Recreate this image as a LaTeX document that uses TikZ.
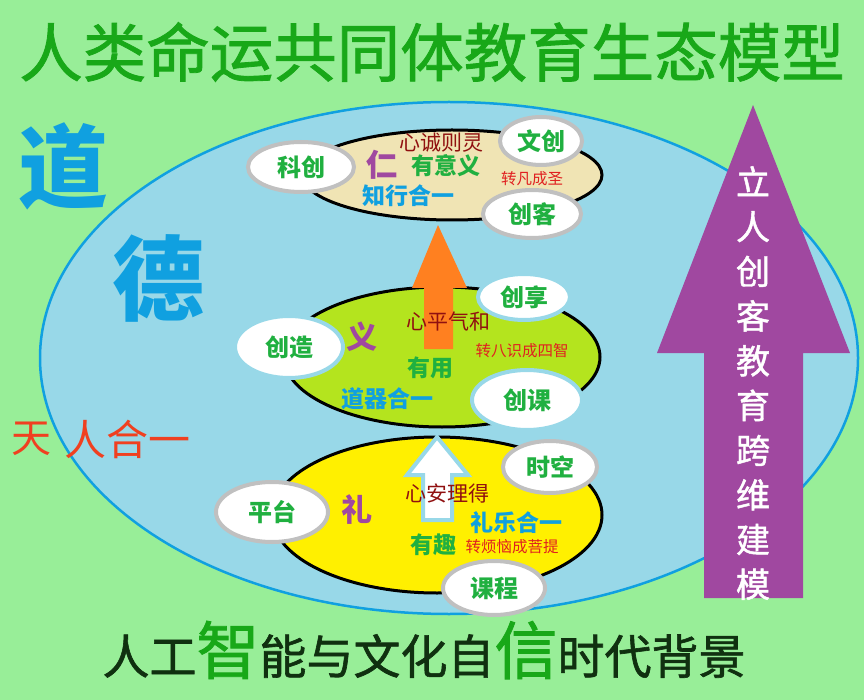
\documentclass[tikz,border=0pt]{standalone}
\usepackage{fontspec}
\usetikzlibrary{shapes.geometric}
\newfontfamily\cjk{Noto Sans CJK SC}
\newfontfamily\cjkmid[FakeBold=1.3]{Noto Sans CJK SC}

\definecolor{meadow}{HTML}{98EE98}
\definecolor{lake}{HTML}{98D8E8}
\definecolor{rimblue}{HTML}{10A0E0}
\definecolor{wheat}{HTML}{F0E4B4}
\definecolor{lime}{HTML}{B4E41E}
\definecolor{sunny}{HTML}{FFF000}
\definecolor{rimgrey}{HTML}{C0C0C0}
\definecolor{tagtxt}{HTML}{20B040}
\definecolor{titlegreen}{HTML}{18A818}
\definecolor{darkleaf}{HTML}{103010}
\definecolor{plum}{HTML}{A048A0}
\definecolor{carrot}{HTML}{FF8020}
\definecolor{scarlet}{HTML}{E02020}
\definecolor{maroon}{HTML}{901010}
\definecolor{tianred}{HTML}{F04020}

\tikzset{
  ring/.style={ellipse, draw=black, line width=3pt, inner sep=0pt},
  tag/.style={ellipse, fill=white, draw=rimgrey, line width=4pt, inner sep=0pt,
    text=tagtxt, font=\cjk\bfseries\fontsize{24}{24}\selectfont},
  tagblue/.style={tag, draw=lake},
  virtue/.style={text=plum, font=\cjk\bfseries\fontsize{31}{31}\selectfont},
  mood/.style={text=maroon, font=\cjk\fontsize{21}{21}\selectfont},
  use/.style={text=tagtxt, font=\cjk\bfseries\fontsize{23}{23}\selectfont},
  unity/.style={text=rimblue, font=\cjk\bfseries\fontsize{23}{23}\selectfont},
  turn/.style={text=scarlet, font=\cjk\fontsize{15.5}{15.5}\selectfont}
}

\begin{document}
\begin{tikzpicture}[x=1pt, y=-1pt]
    % Background
    \useasboundingbox (0,0) rectangle (864,700);
    \fill[meadow] (0,0) rectangle (864,700);

    % Titles
    \node[text=titlegreen, font=\cjkmid\fontsize{63.5}{63.5}\selectfont] (title) at (432,52) {人类命运共同体教育生态模型};
    \node[text=darkleaf, font=\cjkmid\fontsize{47}{47}\selectfont, anchor=base] (footer) at (424,674)
      {人工{\color{titlegreen}\fontsize{63}{63}\selectfont 智}能与文化自{\color{titlegreen}\fontsize{63}{63}\selectfont 信}时代背景};

    % Big ellipse
    \node[ellipse, fill=lake, draw=rimblue, line width=2.5pt, minimum width=818pt, minimum height=512pt] (lake) at (449,358) {};

    % Side words
    \node[text=rimblue, font=\cjk\bfseries\fontsize{90}{90}\selectfont] (dao) at (63,166) {道};
    \node[text=rimblue, font=\cjk\bfseries\fontsize{92}{92}\selectfont] (de) at (158,278) {德};
    \node[text=tianred, font=\cjk\fontsize{40}{40}\selectfont] (tian) at (31,439) {天};
    \node[text=tianred, font=\cjk\fontsize{42}{42}\selectfont] (renheyi) at (127,439) {人合一};

    % Three levels
    \node[ring, fill=sunny, minimum width=330pt, minimum height=156pt] (li) at (437,515) {};
    \node[ring, fill=lime, minimum width=316pt, minimum height=140pt] (yi) at (442,357) {};
    \node[ring, fill=wheat, minimum width=300pt, minimum height=90pt] (ren) at (452,175) {};

    % Arrows between levels
    \fill[carrot] (424,349) -- (424,288) -- (412,288) -- (438,225) -- (467,288) -- (453,288) -- (453,349) -- cycle;
    \filldraw[fill=white, draw=lake, line width=4pt, line join=miter]
      (423,520) -- (423,475) -- (407,475) -- (437,437) -- (468,475) -- (452,475) -- (452,520) -- cycle;

    % Top level texts
    \node[mood] (cheng) at (441,143) {心诚则灵};
    \node[virtue] (renc) at (382,165) {仁};
    \node[use] (yiyi) at (446,166) {有意义};
    \node[turn] (fansheng) at (532,179) {转凡成圣};
    \node[unity] (zhixing) at (408,196) {知行合一};

    % Middle level texts
    \node[virtue] (yic) at (362,337) {义};
    \node[mood] (ping) at (448,321) {心平气和};
    \node[turn] (bashi) at (522,351) {转八识成四智};
    \node[use] (youyong) at (430,368) {有用};
    \node[unity] (daoqi) at (387,399) {道器合一};

    % Bottom level texts
    \node[virtue] (lic) at (357,510) {礼};
    \node[mood] (an) at (447,494) {心安理得};
    \node[unity] (liyue) at (516,523) {礼乐合一};
    \node[use] (youqu) at (433,545) {有趣};
    \node[turn] (fannao) at (512,547) {转烦恼成菩提};

    % Small tags
    \node[tag, minimum width=106pt, minimum height=50pt] (kechuang) at (301,167) {科创};
    \node[tag, minimum width=82pt, minimum height=48pt] (wenchuang) at (541,141) {文创};
    \node[tag, minimum width=98pt, minimum height=48pt] (chuangke) at (532,214) {创客};
    \node[tagblue, minimum width=92pt, minimum height=46pt] (chuangxiang) at (524,297) {创享};
    \node[tagblue, minimum width=108pt, minimum height=62pt] (chuangzao) at (289,347) {创造};
    \node[tagblue, minimum width=110pt, minimum height=60pt] (chuangke2) at (527,400) {创课};
    \node[tag, minimum width=94pt, minimum height=52pt] (shikong) at (550,467) {时空};
    \node[tag, minimum width=112pt, minimum height=60pt] (pingtai) at (272,512) {平台};
    \node[tag, minimum width=102pt, minimum height=54pt] (kecheng) at (494,588) {课程};

    % Purple arrow
    \fill[plum] (704,598) -- (704,353) -- (657,353) -- (753,105) -- (850,353) -- (803,353) -- (803,598) -- cycle;
    \node[text=white, font=\cjkmid\fontsize{34}{44.7}\selectfont, align=center] (motto) at (753,383)
      {立\\人\\创\\客\\教\\育\\跨\\维\\建\\模};
\end{tikzpicture}
\end{document}
